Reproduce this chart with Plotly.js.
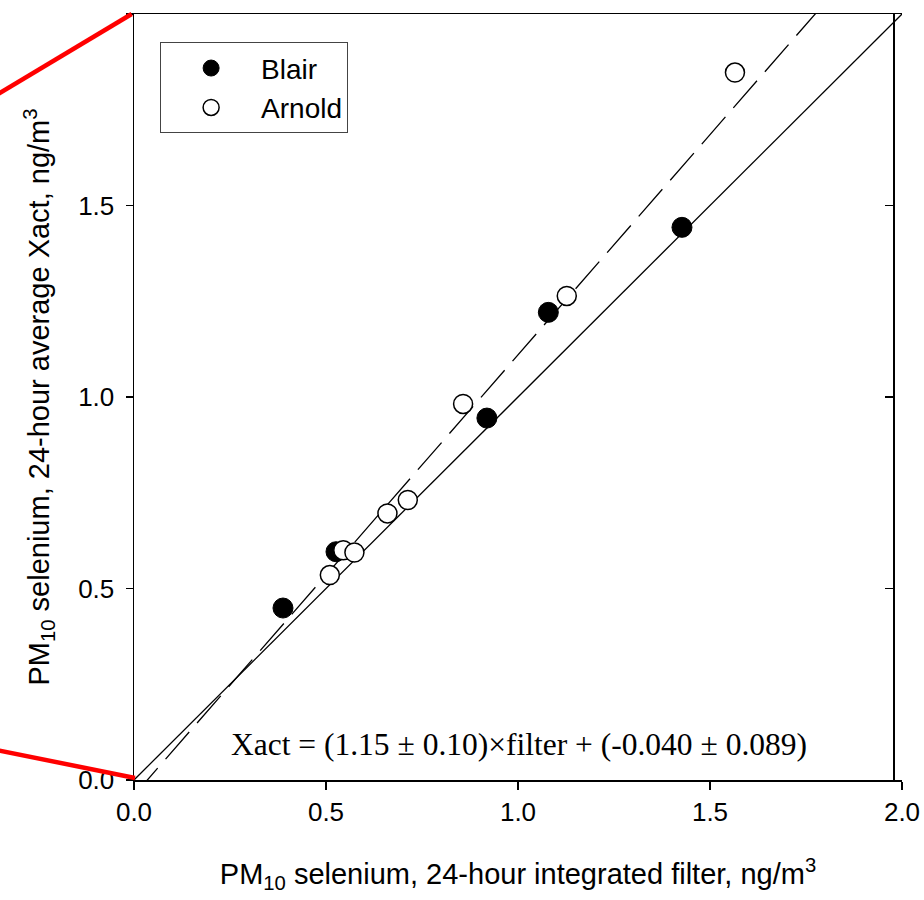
<!DOCTYPE html>
<html><head>
<meta charset="utf-8">
<script src="https://cdn.plot.ly/plotly-3.0.1.min.js"></script>
<style>body{margin:0;background:#fff}</style>
</head><body>
<div id="plot" style="width:924px;height:900px"></div>
<script>
// Data
const blairX = [0.388, 0.526, 0.919, 1.079, 1.427];
const blairY = [0.449, 0.596, 0.945, 1.221, 1.443];
const arnoldX = [0.510, 0.545, 0.574, 0.660, 0.713, 0.857, 1.127, 1.565];
const arnoldY = [0.535, 0.600, 0.594, 0.696, 0.731, 0.982, 1.264, 1.847];
const fitSlope = 1.15;
const fitIntercept = -0.040;
const lineX = [0, 2];
const tickVals = [0, 0.5, 1.0, 1.5, 2.0];
const tickText = ['0.0', '0.5', '1.0', '1.5', '2.0'];

const sans = 'Liberation Sans, Arial, sans-serif';
const serif = 'Liberation Serif, Times New Roman, serif';

const traces = [
  { x: lineX, y: lineX, mode: 'lines', line: {color: '#000', width: 1.3}, showlegend: false, hoverinfo: 'skip' },
  { x: lineX, y: lineX.map(v => fitSlope * v + fitIntercept), mode: 'lines',
    line: {color: '#000', width: 1.3, dash: '36px,12px'}, showlegend: false, hoverinfo: 'skip' },
  { x: blairX, y: blairY, mode: 'markers', name: 'Blair',
    marker: {symbol: 'circle', size: 20, color: '#000', line: {color: '#000', width: 1}} },
  { x: arnoldX, y: arnoldY, mode: 'markers', name: 'Arnold',
    marker: {symbol: 'circle', size: 19, color: '#fff', line: {color: '#000', width: 1.5}} },
  { x: [], y: [], yaxis: 'y2', showlegend: false, hoverinfo: 'skip' }
];

const layout = {
  width: 924, height: 900,
  margin: {l: 134, r: 22, t: 14, b: 120},
  paper_bgcolor: '#fff', plot_bgcolor: '#fff',
  font: {family: sans, color: '#000', size: 25},
  showlegend: true,
  legend: {
    x: 0.034, y: 0.963, xanchor: 'left', yanchor: 'top',
    bordercolor: '#444', borderwidth: 1, bgcolor: '#fff',
    font: {family: sans, size: 28, color: '#000'},
    itemwidth: 90, tracegroupgap: 0
  },
  xaxis: {
    range: [0, 2], tickvals: tickVals, ticktext: tickText,
    ticks: 'outside', ticklen: 8, tickwidth: 1.5, tickcolor: '#000',
    showline: true, linecolor: '#000', linewidth: 1.5, mirror: true,
    showgrid: false, zeroline: false,
    tickfont: {family: sans, size: 26},
    title: {text: 'PM<sub>10</sub> selenium, 24-hour integrated filter, ng/m<sup>3</sup>',
            font: {family: sans, size: 29}, standoff: 38}
  },
  yaxis: {
    range: [0, 2], tickvals: tickVals, ticktext: tickText,
    ticks: 'outside', ticklen: 7, tickwidth: 1.5, tickcolor: '#000',
    showline: true, linecolor: '#000', linewidth: 1.5, mirror: false,
    showgrid: false, zeroline: false, ticklabelstandoff: 6,
    tickfont: {family: sans, size: 26},
    title: {text: 'PM<sub>10</sub> selenium, 24-hour average Xact, ng/m<sup>3</sup>',
            font: {family: sans, size: 29}, standoff: 20}
  },
  yaxis2: {
    overlaying: 'y', anchor: 'free', position: 0.9883, side: 'right',
    range: [0, 2], tickvals: tickVals, showticklabels: false,
    ticks: 'inside', ticklen: 8, tickwidth: 1.5, tickcolor: '#000',
    showline: true, linecolor: '#000', linewidth: 1.5,
    showgrid: false, zeroline: false
  },
  annotations: [{
    xref: 'paper', yref: 'paper', x: 0.501, y: 0.046, xanchor: 'center', yanchor: 'middle',
    text: 'Xact = (1.15 ± 0.10)×filter + (-0.040 ± 0.089)', showarrow: false,
    font: {family: serif, size: 31.5, color: '#000'}
  }],
  shapes: [
    {type: 'line', xref: 'paper', yref: 'paper', x0: -0.181, y0: 0.893, x1: -0.003, y1: 1.0,
     line: {color: '#ff0000', width: 4.5}, layer: 'above'},
    {type: 'line', xref: 'paper', yref: 'paper', x0: -0.181, y0: 0.0396, x1: 0.0013, y1: 0.0026,
     line: {color: '#ff0000', width: 4.5}, layer: 'above'}
  ]
};

Plotly.newPlot('plot', traces, layout, {displayModeBar: false, staticPlot: true});
</script>
</body></html>
